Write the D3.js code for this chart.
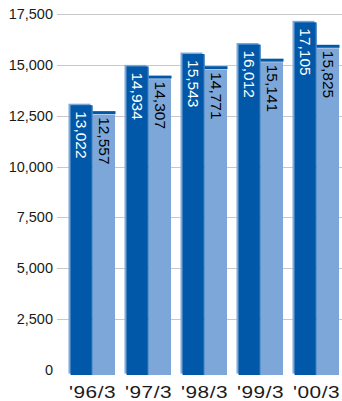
<!DOCTYPE html>
<html>
<head>
<meta charset="utf-8">
<script src="https://cdn.jsdelivr.net/npm/d3@7/dist/d3.min.js"></script>
<style>
  html, body { margin: 0; padding: 0; background: #fff; }
  svg { display: block; font-family: "Liberation Sans", Arial, sans-serif; }
</style>
</head>
<body>
<svg id="chart" width="342" height="401"></svg>
<script>
// Fiscal year-end periods
const periods = ["'96/3", "'97/3", "'98/3", "'99/3", "'00/3"];
// First series (dark bars)
const seriesA = [13022, 14934, 15543, 16012, 17105];
// Second series (light bars)
const seriesB = [12557, 14307, 14771, 15141, 15825];
// Value axis ticks
const yTicks = [0, 2500, 5000, 7500, 10000, 12500, 15000, 17500];

const DARK = "#0158a8";
const LIGHT = "#7da7d9";

const svg = d3.select("#chart");

const y = d3.scaleLinear().domain([0, 17500]).range([369.5, 14.3]);
const x = d3.scalePoint().domain(periods).range([92.5, 316.5]);
const barW = 22;
const base = y(0);

// Gridlines and value-axis labels
const grid = svg.append("g");
grid.selectAll("line")
  .data(yTicks.filter(d => d > 0))
  .join("line")
  .attr("x1", 57).attr("x2", 342)
  .attr("y1", d => Math.round(y(d)) + 0.5)
  .attr("y2", d => Math.round(y(d)) + 0.5)
  .attr("stroke", "#c8c8c8").attr("stroke-width", 1);

grid.selectAll("text")
  .data(yTicks)
  .join("text")
  .attr("x", 53)
  .attr("y", d => y(d))
  .attr("dy", "0.35em")
  .attr("text-anchor", "end")
  .attr("font-size", 14.5)
  .attr("fill", "#1a1a1a")
  .text(d => d3.format(",")(d));

const groups = svg.append("g").selectAll("g")
  .data(periods.map((p, i) => ({ p, a: seriesA[i], b: seriesB[i] })))
  .join("g")
  .attr("transform", d => `translate(${x(d.p)},0)`);

// Light backing edge behind the dark bar
groups.append("rect")
  .attr("x", -barW - 2)
  .attr("y", d => y(d.a) - 1.5)
  .attr("width", barW)
  .attr("height", d => base + 4 - (y(d.a) - 1.5))
  .attr("fill", LIGHT);

// Dark bar
groups.append("rect")
  .attr("x", -barW)
  .attr("y", d => y(d.a))
  .attr("width", barW)
  .attr("height", d => base + 5.5 - y(d.a))
  .attr("fill", DARK);

// Light bar
groups.append("rect")
  .attr("x", 0.5)
  .attr("y", d => y(d.b))
  .attr("width", barW)
  .attr("height", d => base + 5.5 - y(d.b))
  .attr("fill", LIGHT);

// Dark cap on the light bar
groups.append("rect")
  .attr("x", 0)
  .attr("y", d => y(d.b) - 3.5)
  .attr("width", barW + 1)
  .attr("height", 3)
  .attr("fill", DARK);

// Thin seam between the two bars
groups.append("line")
  .attr("x1", -0.5).attr("x2", -0.5)
  .attr("y1", d => y(d.a) + 1)
  .attr("y2", base + 5.5)
  .attr("stroke", "#3d7fc4").attr("stroke-width", 1);

// Rotated value labels
groups.append("text")
  .attr("transform", d => `translate(${-barW / 2},${y(d.a) + 6}) rotate(90)`)
  .attr("dy", "0.35em")
  .attr("font-size", 15.5)
  .attr("fill", "#fff")
  .text(d => d3.format(",")(d.a));

groups.append("text")
  .attr("transform", d => `translate(${barW / 2 + 0.5},${y(d.b) + 2.5}) rotate(90)`)
  .attr("dy", "0.35em")
  .attr("font-size", 15.5)
  .attr("fill", "#000")
  .text(d => d3.format(",")(d.b));

// Period labels (wide set)
svg.append("g").selectAll("text")
  .data(periods)
  .join("text")
  .attr("transform", d => `translate(${x(d)},392) scale(1.3,1)`)
  .attr("dy", "0.35em")
  .attr("text-anchor", "middle")
  .attr("font-size", 16)
  .attr("letter-spacing", 0.4)
  .attr("fill", "#1a1a1a")
  .text(d => d);
</script>
</body>
</html>
